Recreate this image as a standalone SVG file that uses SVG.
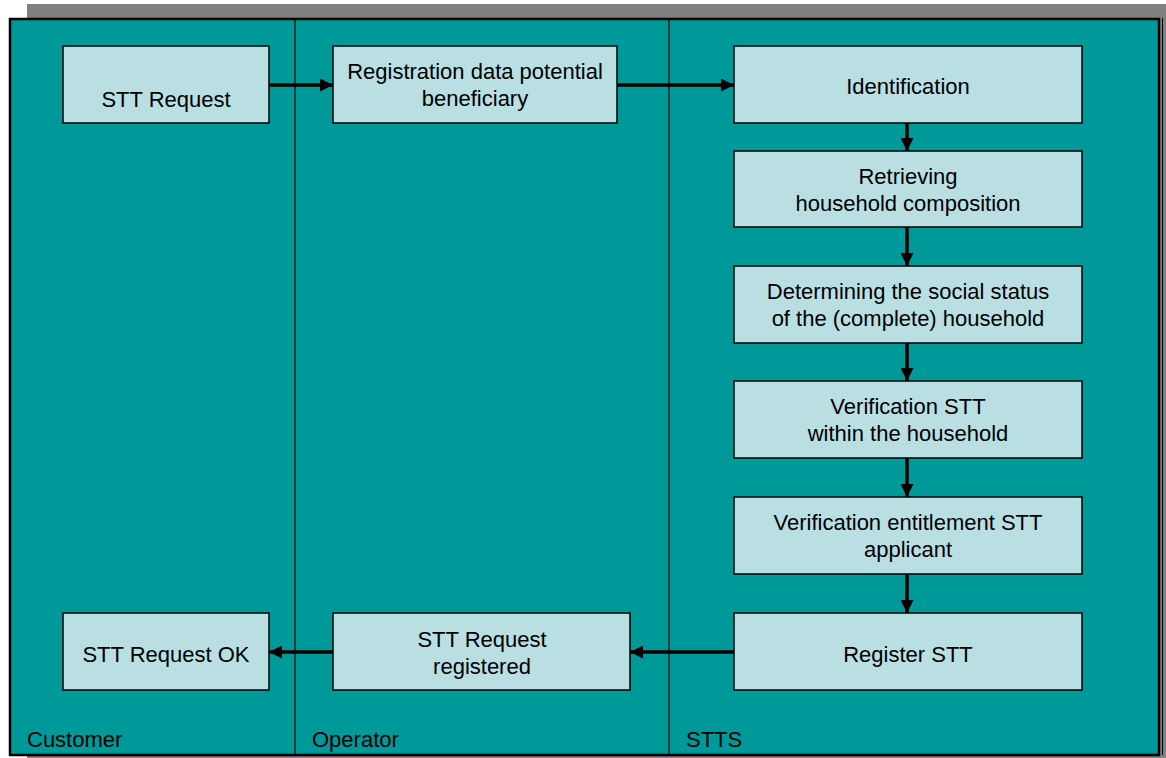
<svg xmlns="http://www.w3.org/2000/svg" width="1166" height="758" viewBox="0 0 1166 758">
<style>
.box{fill:#B9DFE2;stroke:#000;stroke-width:1.5}
.t{font-family:"Liberation Sans",Arial,sans-serif;font-size:22px;fill:#000;text-anchor:middle}
.lane{font-family:"Liberation Sans",Arial,sans-serif;font-size:22px;fill:#000}
.c{stroke:#000;stroke-width:3.5;fill:none}
</style>
<defs>
<marker id="ah" viewBox="0 0 10 10" refX="10" refY="5" markerWidth="13" markerHeight="13" markerUnits="userSpaceOnUse" orient="auto">
<path d="M0,0 L10,5 L0,10 z" fill="#000"/>
</marker>
</defs>
<rect width="1166" height="758" fill="#fff"/>
<g id="frame">
<rect x="27" y="4" width="1139" height="754" fill="#808080"/>
<rect x="1162" y="18" width="1" height="737" fill="#000"/>
<rect x="10" y="19" width="1149" height="736" fill="#009999" stroke="#000" stroke-width="2.5"/>
<line x1="295" y1="19" x2="295" y2="755" stroke="#000" stroke-width="1.2"/>
<line x1="669" y1="19" x2="669" y2="755" stroke="#000" stroke-width="1.2"/>
<text class="lane" x="27" y="747">Customer</text>
<text class="lane" x="312" y="747">Operator</text>
<text class="lane" x="686" y="747">STTS</text>
</g>
<g id="connectors">
<line class="c" x1="269" y1="85" x2="333" y2="85" marker-end="url(#ah)"/>
<line class="c" x1="617" y1="85" x2="734" y2="85" marker-end="url(#ah)"/>
<line class="c" x1="907" y1="123" x2="907" y2="151" marker-end="url(#ah)"/>
<line class="c" x1="907" y1="227" x2="907" y2="266" marker-end="url(#ah)"/>
<line class="c" x1="907" y1="343" x2="907" y2="381" marker-end="url(#ah)"/>
<line class="c" x1="907" y1="458" x2="907" y2="497" marker-end="url(#ah)"/>
<line class="c" x1="907" y1="574" x2="907" y2="613" marker-end="url(#ah)"/>
<line class="c" x1="734" y1="652" x2="630" y2="652" marker-end="url(#ah)"/>
<line class="c" x1="333" y1="652" x2="269" y2="652" marker-end="url(#ah)"/>
</g>
<g id="stt-request">
<rect class="box" x="63" y="46" width="206" height="77"/>
<text class="t" x="166" y="107">STT Request</text>
</g>
<g id="registration-data">
<rect class="box" x="333" y="46" width="284" height="77"/>
<text class="t" x="475" y="79">Registration data potential</text>
<text class="t" x="475" y="106">beneficiary</text>
</g>
<g id="identification">
<rect class="box" x="734" y="46" width="348" height="77"/>
<text class="t" x="908" y="94">Identification</text>
</g>
<g id="retrieving">
<rect class="box" x="734" y="151" width="348" height="76"/>
<text class="t" x="908" y="184">Retrieving</text>
<text class="t" x="908" y="211">household composition</text>
</g>
<g id="determining">
<rect class="box" x="734" y="266" width="348" height="77"/>
<text class="t" x="908" y="299">Determining the social status</text>
<text class="t" x="908" y="326">of the (complete) household</text>
</g>
<g id="verification-stt">
<rect class="box" x="734" y="381" width="348" height="77"/>
<text class="t" x="908" y="414">Verification STT</text>
<text class="t" x="908" y="441">within the household</text>
</g>
<g id="verification-entitlement">
<rect class="box" x="734" y="497" width="348" height="77"/>
<text class="t" x="908" y="530">Verification entitlement STT</text>
<text class="t" x="908" y="557">applicant</text>
</g>
<g id="register-stt">
<rect class="box" x="734" y="613" width="348" height="77"/>
<text class="t" x="908" y="662">Register STT</text>
</g>
<g id="stt-request-registered">
<rect class="box" x="333" y="613" width="297" height="77"/>
<text class="t" x="482" y="647">STT Request</text>
<text class="t" x="482" y="674">registered</text>
</g>
<g id="stt-request-ok">
<rect class="box" x="63" y="613" width="206" height="77"/>
<text class="t" x="166" y="662">STT Request OK</text>
</g>
</svg>
